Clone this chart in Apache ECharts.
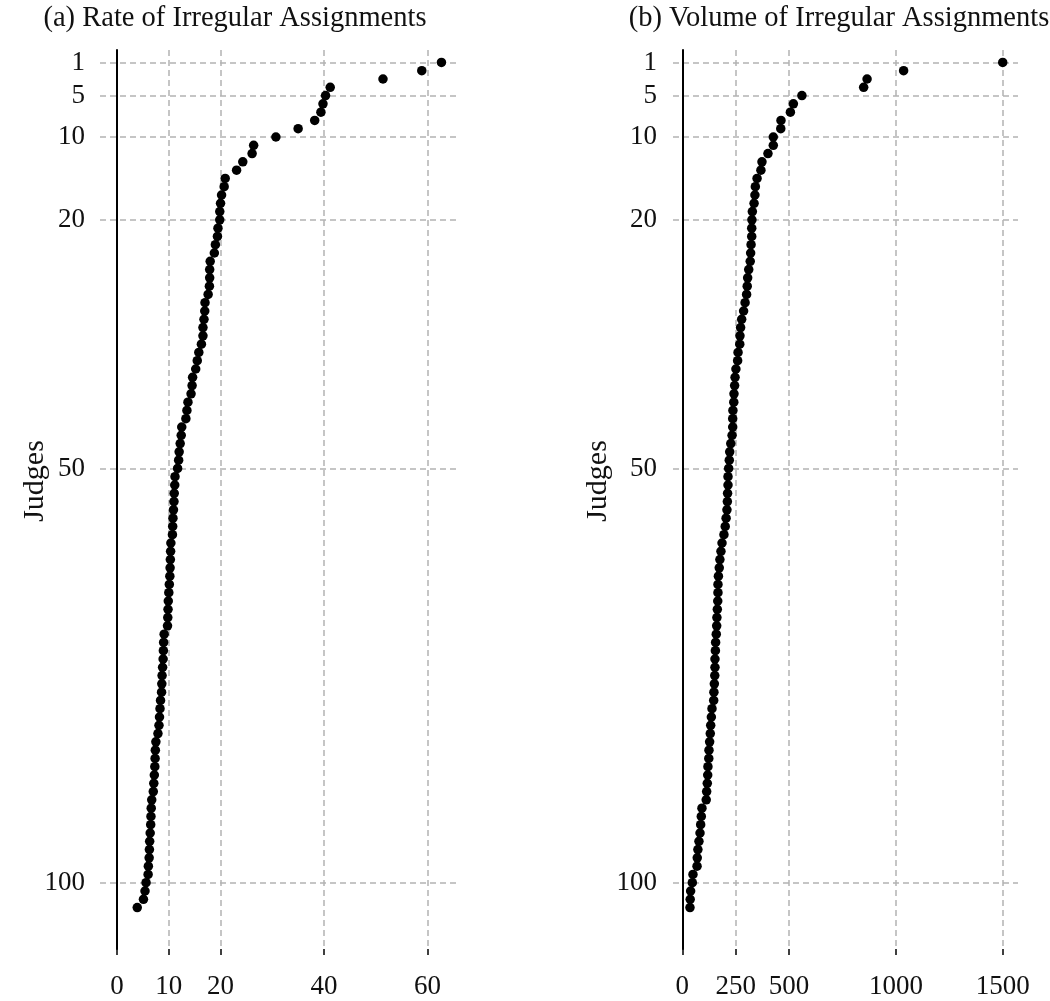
<!DOCTYPE html>
<html>
<head>
<meta charset="utf-8">
<script src="https://cdn.jsdelivr.net/npm/echarts@6/dist/echarts.min.js"></script>
<style>
html,body{margin:0;padding:0;background:#fff;}
#chart{width:1050px;height:1001px;}
</style>
</head>
<body>
<div id="chart"></div>
<script>
// Judge ranks 1..103 are the positions in these arrays (rank = index + 1)
const rateValues = [
  62.7, 58.9, 51.4, 41.2, 40.3, 39.8, 39.4, 38.2, 35.0, 30.7,
  26.4, 26.1, 24.3, 23.1, 20.9, 20.7, 20.2, 20.0, 19.85, 19.85,
  19.5, 19.4, 19.0, 18.8, 18.0, 17.9, 17.9, 17.85, 17.6, 17.0,
  16.95, 16.8, 16.6, 16.6, 16.3, 15.8, 15.5, 15.2, 14.6, 14.5,
  14.3, 13.7, 13.5, 13.3, 12.5, 12.4, 12.2, 12.0, 11.9, 11.7,
  11.2, 11.15, 11.05, 11.0, 10.9, 10.8, 10.75, 10.7, 10.4, 10.35,
  10.3, 10.25, 10.2, 10.1, 10.0, 9.9, 9.85, 9.8, 9.75, 9.1,
  9.0, 8.95, 8.9, 8.8, 8.7, 8.65, 8.6, 8.4, 8.3, 8.2,
  8.1, 7.9, 7.5, 7.4, 7.35, 7.3, 7.2, 7.1, 7.0, 6.7,
  6.6, 6.55, 6.5, 6.4, 6.3, 6.25, 6.2, 6.05, 6.0, 5.6,
  5.4, 5.1, 3.9
];
const volumeValues = [
  1500, 1036, 865, 849, 560, 520, 506, 462, 461, 426,
  426, 401, 373, 368, 350, 342, 340, 336, 328, 326,
  325, 325, 322, 320, 318, 311, 306, 304, 301, 294,
  287, 278, 273, 270, 269, 261, 259, 251, 247, 245,
  242, 241, 237, 236, 236, 233, 227, 222, 220, 217,
  214, 214, 212, 211, 209, 205, 201, 195, 186, 181,
  176, 173, 169, 167, 167, 166, 164, 162, 161, 159,
  156, 155, 153, 153, 152, 150, 148, 147, 139, 136,
  133, 131, 128, 125, 124, 120, 119, 117, 114, 112,
  92, 89, 86, 83, 78, 73, 70, 69, 50, 47,
  39, 37, 36
];
const judgeTicks = [1, 5, 10, 20, 50, 100];
const rateTicks = [0, 10, 20, 40, 60];
const volumeTicks = [0, 250, 500, 1000, 1500];
const titles = ['(a) Rate of Irregular Assignments', '(b) Volume of Irregular Assignments'];
const yName = 'Judges';

const FONT = 'Liberation Serif';
const gridColor = '#b3b3b3';

function xAxisOpt(gridIndex, min, max, ticks) {
  return {
    type: 'value', gridIndex: gridIndex, min: min, max: max,
    axisLine: { show: false, onZero: false },
    axisTick: { show: true, customValues: ticks, length: 6, lineStyle: { color: '#000', width: 1.5 } },
    axisLabel: { customValues: ticks, margin: 24, fontFamily: FONT, fontSize: 27, color: '#111',
      formatter: v => String(v) },
    splitLine: { show: false }
  };
}
function yAxisOpt(gridIndex, labelMargin) {
  return {
    type: 'value', gridIndex: gridIndex, inverse: true, min: -0.5, max: 108,
    z: 4,
    axisLine: { show: true, onZero: true, lineStyle: { color: '#000', width: 2 } },
    axisTick: { show: false },
    axisLabel: { customValues: judgeTicks, margin: labelMargin, fontFamily: FONT, fontSize: 27, color: '#111',
      formatter: v => String(v) },
    splitLine: { show: false }
  };
}
function seriesOpt(idx, values, ticks) {
  const lines = ticks.filter(v => v !== 0).map(v => ({ xAxis: v }))
    .concat(judgeTicks.map(v => ({ yAxis: v })));
  return {
    type: 'scatter', xAxisIndex: idx, yAxisIndex: idx, z: 2,
    symbol: 'circle', symbolSize: 9.5,
    itemStyle: { color: '#000', opacity: 1 },
    emphasis: { disabled: true },
    data: values.map((v, i) => [v, i + 1]),
    markLine: {
      silent: true, z: 1, symbol: ['none', 'none'], animation: false,
      label: { show: false },
      lineStyle: { type: [6, 4], color: gridColor, width: 1.5 },
      emphasis: { disabled: true },
      data: lines
    }
  };
}
function yNameText(x) {
  return {
    type: 'text', x: x, y: 481, rotation: Math.PI / 2,
    style: { text: yName, font: '30px "' + FONT + '"', fill: '#111', align: 'center', verticalAlign: 'middle' }
  };
}

const chart = echarts.init(document.getElementById('chart'), null, { renderer: 'canvas' });
chart.setOption({
  backgroundColor: '#fff',
  animation: false,
  title: [
    { text: titles[0], left: 230, top: -1, textAlign: 'center',
      textStyle: { fontFamily: FONT, fontSize: 28.5, fontWeight: 'normal', color: '#111' } },
    { text: titles[1], left: 834, top: -1, textAlign: 'center',
      textStyle: { fontFamily: FONT, fontSize: 28.5, fontWeight: 'normal', color: '#111' } }
  ],
  graphic: [yNameText(35), yNameText(598)],
  grid: [
    { left: 100, right: 592, top: 50, bottom: 52, outerBoundsMode: 'none', containLabel: false },
    { left: 673, right: 32, top: 50, bottom: 52, outerBoundsMode: 'none', containLabel: false }
  ],
  xAxis: [
    xAxisOpt(0, -3.3, 65.9, rateTicks),
    xAxisOpt(1, -43.5, 1571.5, volumeTicks)
  ],
  yAxis: [
    yAxisOpt(0, 15),
    yAxisOpt(1, 16)
  ],
  series: [
    seriesOpt(0, rateValues, rateTicks),
    seriesOpt(1, volumeValues, volumeTicks)
  ]
});
</script>
</body>
</html>
